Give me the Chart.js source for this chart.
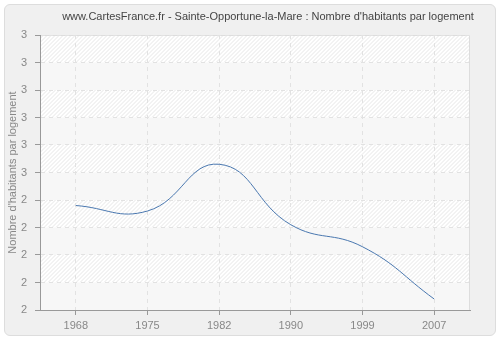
<!DOCTYPE html>
<html>
<head>
<meta charset="utf-8">
<script src="https://cdn.jsdelivr.net/npm/chart.js@4/dist/chart.umd.min.js"></script>
<style>
    body { margin: 0; background: #ffffff; }
    #cadre { position: absolute; left: 4px; top: 4px; width: 490px; height: 330px; background: #f0f0f0; border: 1px solid #dddddd; border-radius: 6px; }
    canvas { position: absolute; left: 0; top: 0; }
</style>
</head>
<body>
<div id="cadre"></div>
<canvas id="graphique" width="500" height="340"></canvas>
<script>
// Données
const annees = ['1968', '1975', '1982', '1990', '1999', '2007'];
const habitantsParLogement = [2.38, 2.36, 2.53, 2.31, 2.23, 2.04];
const yMin = 2;
const yMax = 3;
const yPas = 0.1;
const titre = "www.CartesFrance.fr - Sainte-Opportune-la-Mare : Nombre d'habitants par logement";
const police = '"Liberation Sans", Arial, sans-serif';

// Fond de la zone de tracé : bandes alternées hachurées / unies
const fondZone = {
    id: 'fondZone',
    beforeDraw(chart) {
        const ctx = chart.ctx;
        const area = chart.chartArea;
        const y = chart.scales.y;
        ctx.save();
        ctx.fillStyle = '#ffffff';
        ctx.fillRect(area.left, area.top, area.right - area.left, area.bottom - area.top);
        const nb = Math.round((yMax - yMin) / yPas);
        for (let i = 0; i < nb; i++) {
            const haut = y.getPixelForValue(yMax - i * yPas);
            const bas = y.getPixelForValue(yMax - (i + 1) * yPas);
            if (i % 2 === 1) {
                ctx.fillStyle = '#f7f7f7';
                ctx.fillRect(area.left, haut, area.right - area.left, bas - haut);
            } else {
                ctx.save();
                ctx.beginPath();
                ctx.rect(area.left, haut, area.right - area.left, bas - haut);
                ctx.clip();
                ctx.strokeStyle = '#e6e6e6';
                ctx.lineWidth = 1;
                ctx.beginPath();
                for (let x = area.left - 40; x < area.right + 40; x += 4) {
                    ctx.moveTo(x, bas);
                    ctx.lineTo(x + (bas - haut), haut);
                }
                ctx.stroke();
                ctx.restore();
            }
        }
        // bord haut et droit
        ctx.strokeStyle = '#dddddd';
        ctx.beginPath();
        ctx.moveTo(area.left, area.top + 0.5);
        ctx.lineTo(area.right - 0.5, area.top + 0.5);
        ctx.lineTo(area.right - 0.5, area.bottom);
        ctx.stroke();
        ctx.restore();
    },
    afterDraw(chart) {
        const ctx = chart.ctx;
        ctx.save();
        ctx.fillStyle = '#444444';
        ctx.font = '11px ' + police;
        ctx.textAlign = 'center';
        ctx.textBaseline = 'middle';
        ctx.fillText(titre, 268, 17);
        ctx.restore();
    }
};

const ctx = document.getElementById('graphique').getContext('2d');
new Chart(ctx, {
    type: 'line',
    data: {
        labels: annees,
        datasets: [{
            data: habitantsParLogement,
            borderColor: '#4a78b0',
            borderWidth: 1,
            pointRadius: 0,
            tension: 0.45,
            fill: false
        }]
    },
    options: {
        responsive: false,
        animation: false,
        layout: { padding: { top: 35, right: 30, left: 0, bottom: 0 } },
        plugins: {
            legend: { display: false },
            title: { display: false },
            tooltip: { enabled: false }
        },
        scales: {
            x: {
                offset: true,
                afterFit: function (scale) { scale.height = 30; },
                grid: {
                    color: '#e2e2e2',
                    tickColor: '#999999',
                    tickLength: 5,
                    tickBorderDash: [],
                    offset: false
                },
                border: { color: '#999999', dash: [4, 4] },
                ticks: { color: '#888888', font: { family: police, size: 11 }, padding: 4 }
            },
            y: {
                min: yMin,
                max: yMax,
                afterFit: function (scale) { scale.width = 40; },
                grid: {
                    color: '#e2e2e2',
                    tickColor: '#999999',
                    tickLength: 5,
                    tickBorderDash: []
                },
                border: { color: '#999999', dash: [4, 4] },
                title: {
                    display: true,
                    text: "Nombre d'habitants par logement",
                    color: '#888888',
                    font: { family: police, size: 11 },
                    padding: { top: 6, bottom: 0 }
                },
                ticks: {
                    stepSize: yPas,
                    color: '#888888',
                    font: { family: police, size: 11 },
                    padding: 8,
                    callback: function (v) { return Math.round(v); }
                }
            }
        }
    },
    plugins: [fondZone]
});
</script>
</body>
</html>
